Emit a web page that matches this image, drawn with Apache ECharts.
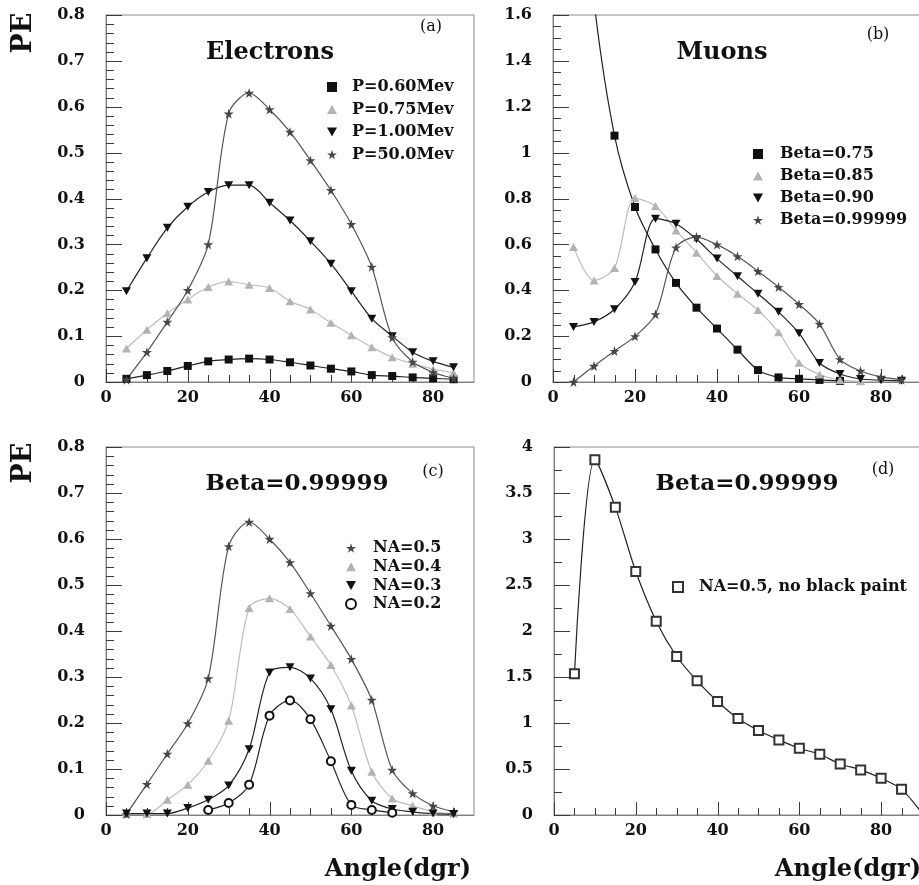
<!DOCTYPE html>
<html>
<head>
<meta charset="utf-8">
<script src="https://cdn.jsdelivr.net/npm/echarts@6.0.0/dist/echarts.min.js"></script>
<style>
  html, body { margin: 0; padding: 0; background: #fff; }
  #chart { width: 919px; height: 885px; }
</style>
</head>
<body>
<div id="chart"></div>
<script>
// Angles at which the photoelectron yield was computed (degrees)
const angles = [5, 10, 15, 20, 25, 30, 35, 40, 45, 50, 55, 60, 65, 70, 75, 80, 85];

// (a) Electrons, by momentum
const peP060 = [0.007, 0.015, 0.024, 0.035, 0.045, 0.049, 0.051, 0.049, 0.043, 0.036, 0.029, 0.023, 0.015, 0.013, 0.010, 0.008, 0.006];
const peP075 = [0.073, 0.114, 0.150, 0.180, 0.207, 0.219, 0.212, 0.205, 0.176, 0.158, 0.129, 0.102, 0.076, 0.054, 0.040, 0.028, 0.020];
const peP100 = [0.198, 0.270, 0.336, 0.382, 0.414, 0.429, 0.429, 0.391, 0.352, 0.307, 0.258, 0.198, 0.138, 0.100, 0.065, 0.045, 0.032];
const peP500 = [0.005, 0.065, 0.131, 0.200, 0.300, 0.585, 0.630, 0.594, 0.545, 0.483, 0.418, 0.344, 0.251, 0.097, 0.044, 0.021, 0.008];

// (b) Muons, by velocity
const beta075Angles = [5, 10, 15, 20, 25, 30, 35, 40, 45, 50, 55, 60, 65, 70];
const peBeta075 = [2.6, 1.66, 1.074, 0.763, 0.578, 0.432, 0.324, 0.233, 0.141, 0.052, 0.020, 0.014, 0.009, 0.005];
const beta085Angles = [5, 10, 15, 20, 25, 30, 35, 40, 45, 50, 55, 60, 65, 70, 75];
const peBeta085 = [0.589, 0.443, 0.497, 0.802, 0.767, 0.661, 0.564, 0.462, 0.385, 0.314, 0.217, 0.084, 0.033, 0.009, 0.003];
const peBeta090 = [0.240, 0.262, 0.317, 0.436, 0.712, 0.690, 0.622, 0.538, 0.461, 0.385, 0.306, 0.213, 0.083, 0.035, 0.013, 0.008, 0.005];
const peBeta999 = [0.000, 0.070, 0.135, 0.199, 0.295, 0.586, 0.632, 0.599, 0.548, 0.483, 0.414, 0.339, 0.253, 0.099, 0.048, 0.022, 0.010];

// (c) Beta=0.99999, by numerical aperture
const peNA05 = [0.002, 0.067, 0.133, 0.199, 0.297, 0.584, 0.637, 0.600, 0.549, 0.482, 0.411, 0.339, 0.250, 0.098, 0.047, 0.020, 0.007];
const peNA04 = [0.002, 0.002, 0.033, 0.066, 0.118, 0.205, 0.450, 0.471, 0.448, 0.388, 0.326, 0.238, 0.094, 0.036, 0.020, 0.007, 0.003];
const peNA03 = [0.003, 0.003, 0.003, 0.015, 0.033, 0.064, 0.143, 0.310, 0.321, 0.297, 0.230, 0.096, 0.031, 0.013, 0.007, 0.003, 0.002];
const na02Angles = [25, 30, 35, 40, 45, 50, 55, 60, 65, 70];
const peNA02 = [0.011, 0.026, 0.066, 0.216, 0.249, 0.208, 0.117, 0.022, 0.011, 0.005];

// (d) Beta=0.99999, NA=0.5 without black paint
const pePaint = [1.534, 3.862, 3.344, 2.647, 2.107, 1.723, 1.458, 1.233, 1.048, 0.918, 0.816, 0.725, 0.660, 0.555, 0.490, 0.399, 0.279];
const paintEndAngle = 90;
const paintEndPE = 0.02;

// Axis ranges and tick labels
const xTickLabels = ['0', '20', '40', '60', '80'];
const xRange = { max: 90, step: 20, minorStep: 5 };
const yRanges = [
  { max: 0.8, step: 0.1, minor: 5 },
  { max: 1.6, step: 0.2, minor: 4 },
  { max: 0.8, step: 0.1, minor: 5 },
  { max: 4, step: 0.5, minor: 2 }
];

const SERIF = '"DejaVu Serif"';
const BLACK = '#111';
const LIGHT = '#b3b3b3';
const STAR = '#474747';
const TICK = '#3a3a3a';

const STAR_PATH = 'path://M50,0L61,35L98,35L68,57L79,91L50,70L21,91L32,57L2,35L39,35Z';
const DOWN_PATH = 'path://M0,0L10,0L5,9Z';
const UP_PATH = 'path://M5,0L10,9L0,9Z';

const grids = [
  { left: 106, top: 15, width: 368, height: 367 },
  { left: 553, top: 15, width: 369, height: 367 },
  { left: 106, top: 447, width: 368, height: 368 },
  { left: 554, top: 447, width: 368, height: 368 }
].map(g => Object.assign({
  show: true, borderColor: '#8a8a8a', borderWidth: 1,
  backgroundColor: 'transparent', containLabel: false, outerBoundsMode: 'none'
}, g));

const labelStyle = { fontFamily: SERIF, fontWeight: 'bold', fontSize: 16, color: BLACK };

const xAxes = grids.map((g, i) => ({
  type: 'value', gridIndex: i, position: 'bottom', min: 0, max: xRange.max, interval: xRange.step,
  axisLine: { show: true, lineStyle: { color: '#808080', width: 1 } },
  axisTick: { show: false },
  axisLabel: Object.assign({
    margin: 8, showMaxLabel: false,
    formatter: v => xTickLabels.includes(String(v)) ? String(v) : ''
  }, labelStyle),
  splitLine: { show: false }
}));

const yAxes = yRanges.map((r, i) => ({
  type: 'value', gridIndex: i, min: 0, max: r.max, interval: r.step,
  axisLine: { show: true, lineStyle: { color: '#808080', width: 1 } },
  axisTick: { show: false },
  minorTick: { show: false },
  axisLabel: Object.assign({ margin: 21 }, labelStyle),
  splitLine: { show: false },
  minorSplitLine: { show: false }
}));

// Inward tick marks: long at labelled values, short in between.
// Each item is [orientation (0 = x, 1 = y), value, isMajor].
function tickItems(yr) {
  const items = [];
  for (let a = 0; a < xRange.max; a += xRange.minorStep) {
    items.push([0, a, a % xRange.step === 0 ? 1 : 0]);
  }
  const n = Math.round(yr.max / yr.step) * yr.minor;
  for (let k = 0; k <= n; k++) {
    items.push([1, k * yr.step / yr.minor, k % yr.minor === 0 ? 1 : 0]);
  }
  return items;
}

function tickSeries(panel) {
  return {
    type: 'custom', xAxisIndex: panel, yAxisIndex: panel,
    data: tickItems(yRanges[panel]), clip: false, silent: true, z: 3,
    encode: { x: 1, y: 1 },
    renderItem: function (params, api) {
      const isY = api.value(0) === 1;
      const v = api.value(1);
      const major = api.value(2) === 1;
      if (!isY) {
        const p = api.coord([v, 0]);
        const x = Math.round(p[0]) + 0.5;
        const len = major ? 13 : 7;
        return { type: 'line', shape: { x1: x, y1: p[1], x2: x, y2: p[1] - len },
                 style: { stroke: TICK, lineWidth: 1 } };
      }
      const p = api.coord([0, v]);
      const y = Math.round(p[1]) + 0.5;
      const len = major ? 16 : 8;
      return { type: 'line', shape: { x1: p[0], y1: y, x2: p[0] + len, y2: y },
               style: { stroke: TICK, lineWidth: 1 } };
    }
  };
}

function pairs(xs, ys) {
  return xs.map((x, k) => [x, ys[k]]);
}

function curve(name, panel, xs, ys, symbol, size, color, lineColor, extra) {
  return Object.assign({
    name: name, type: 'line', xAxisIndex: panel, yAxisIndex: panel,
    data: pairs(xs, ys), smooth: 0.3, clip: true,
    symbol: symbol, symbolSize: size, showSymbol: true,
    itemStyle: { color: color },
    lineStyle: { color: lineColor, width: 1.2 },
    emphasis: { disabled: true }
  }, extra || {});
}

// the fitted curve for (d) runs on to the edge of the range without a marker
const paintData = pairs(angles, pePaint);
paintData.push({ value: [paintEndAngle, paintEndPE], symbol: 'none' });

const series = [
  tickSeries(0), tickSeries(1), tickSeries(2), tickSeries(3),

  curve('P=0.60Mev', 0, angles, peP060, 'rect', 8, BLACK, '#222'),
  curve('P=0.75Mev', 0, angles, peP075, UP_PATH, [9, 8], LIGHT, '#bdbdbd'),
  curve('P=1.00Mev', 0, angles, peP100, DOWN_PATH, [9, 8], BLACK, '#222'),
  curve('P=50.0Mev', 0, angles, peP500, STAR_PATH, 10, STAR, '#555'),

  curve('Beta=0.75', 1, beta075Angles, peBeta075, 'rect', 8, BLACK, '#222'),
  curve('Beta=0.85', 1, beta085Angles, peBeta085, UP_PATH, [9, 8], LIGHT, '#bdbdbd'),
  curve('Beta=0.90', 1, angles, peBeta090, DOWN_PATH, [9, 8], BLACK, '#222'),
  curve('Beta=0.99999', 1, angles, peBeta999, STAR_PATH, 10, STAR, '#555'),

  curve('NA=0.4', 2, angles, peNA04, UP_PATH, [9, 8], LIGHT, '#bdbdbd'),
  curve('NA=0.5', 2, angles, peNA05, STAR_PATH, 10, STAR, '#555'),
  curve('NA=0.3', 2, angles, peNA03, DOWN_PATH, [9, 8], BLACK, '#222'),
  curve('NA=0.2', 2, na02Angles, peNA02, 'emptyCircle', 8, BLACK, '#222',
        { itemStyle: { color: BLACK, borderWidth: 1 } }),

  Object.assign(curve('NA=0.5, no black paint', 3, [], [], 'emptyRect', 9, '#333', '#222',
        { itemStyle: { color: '#333', borderWidth: 1 } }), { data: paintData })
];

const legendText = { fontFamily: SERIF, fontWeight: 'bold', fontSize: 16, color: BLACK, lineHeight: 16 };

function legendBlock(left, top, gap, textPad, items) {
  return {
    left: left, top: top, orient: 'vertical', padding: 0, itemGap: gap,
    itemWidth: 10, itemHeight: 10, selectedMode: false,
    textStyle: Object.assign({ padding: [0, 0, 0, textPad] }, legendText),
    data: items.map(([name, icon]) => ({ name: name, icon: icon }))
  };
}

const legends = [
  legendBlock(327, 79, 6.5, 10, [
    ['P=0.60Mev', 'rect'], ['P=0.75Mev', UP_PATH], ['P=1.00Mev', DOWN_PATH], ['P=50.0Mev', STAR_PATH]
  ]),
  legendBlock(753, 146, 6, 12, [
    ['Beta=0.75', 'rect'], ['Beta=0.85', UP_PATH], ['Beta=0.90', DOWN_PATH], ['Beta=0.99999', STAR_PATH]
  ]),
  legendBlock(345, 540, 2.7, 12, [
    ['NA=0.5', STAR_PATH], ['NA=0.4', UP_PATH], ['NA=0.3', DOWN_PATH], ['NA=0.2', 'emptyCircle']
  ]),
  legendBlock(672, 579, 0, 11, [
    ['NA=0.5, no black paint', 'emptyRect']
  ])
];

function label(text, x, y, font, align, rotation) {
  return {
    type: 'text', x: x, y: y, rotation: rotation || 0, silent: true,
    style: {
      text: text, font: font, fill: BLACK,
      align: align || 'center', verticalAlign: 'middle',
      textAlign: align || 'center', textVerticalAlign: 'middle'
    }
  };
}

const titleFont = 'bold 24px ' + SERIF;
const betaFont = 'bold 23px ' + SERIF;
const tagFont = '16px ' + SERIF;
const peFont = 'bold 27px ' + SERIF;
const angleFont = 'bold 24px ' + SERIF;

const graphics = [
  label('PE', 24, 33, peFont, 'center', Math.PI / 2),
  label('PE', 24, 463, peFont, 'center', Math.PI / 2),
  label('Electrons', 270, 53, titleFont),
  label('Muons', 722, 53, titleFont),
  label('Beta=0.99999', 297, 484, betaFont),
  label('Beta=0.99999', 747, 484, betaFont),
  label('(a)', 431, 27, tagFont),
  label('(b)', 878, 35, tagFont),
  label('(c)', 433, 472, tagFont),
  label('(d)', 883, 470, tagFont),
  label('Angle(dgr)', 471, 870, angleFont, 'right'),
  label('Angle(dgr)', 921, 870, angleFont, 'right')
];

const chart = echarts.init(document.getElementById('chart'), null, { renderer: 'canvas' });
chart.setOption({
  animation: false,
  backgroundColor: '#fff',
  grid: grids,
  xAxis: xAxes,
  yAxis: yAxes,
  legend: legends,
  series: series,
  graphic: graphics
});
</script>
</body>
</html>
